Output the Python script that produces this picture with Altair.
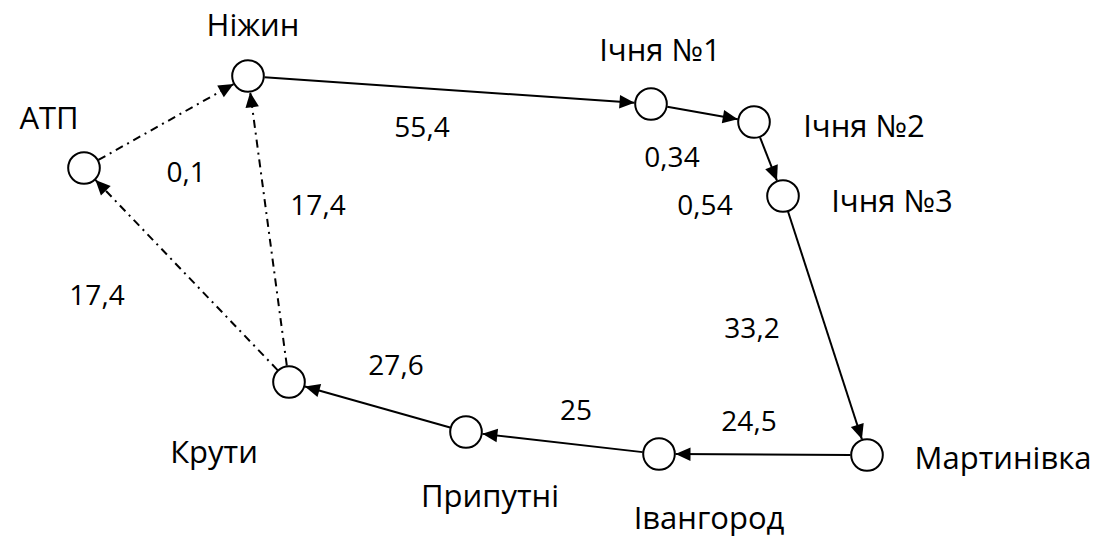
import math
import altair as alt
import pandas as pd

# Nodes (positions in the diagram's own coordinate frame)
names = ["АТП", "Ніжин", "Ічня №1", "Ічня №2", "Ічня №3", "Мартинівка", "Івангород", "Припутні", "Крути"]
node_x = [84, 248, 651, 754, 783, 867, 659, 466, 289]
node_y = [168, 76, 104, 122, 196, 455, 454, 432, 382]
label_x = [49, 253, 660, 864, 892, 1003, 709, 490, 214]
label_y = [129, 36, 61, 137, 212, 469, 529, 507, 463]

# Edges
edge_src = [0, 1, 2, 3, 4, 5, 6, 7, 8, 8]
edge_dst = [1, 2, 3, 4, 5, 6, 7, 8, 0, 1]
edge_style = ["dashdot", "solid", "solid", "solid", "solid", "solid", "solid", "solid", "dashdot", "dashdot"]

# Edge distance labels
dist_text = ["0,1", "55,4", "0,34", "0,54", "33,2", "24,5", "25", "27,6", "17,4", "17,4"]
dist_x = [186, 422, 672, 705, 752, 749, 576, 396, 318, 97]
dist_y = [182, 137, 167, 215, 338, 431, 420, 375, 215, 305]

R = 16.5
rows = []
for s, d, st in zip(edge_src, edge_dst, edge_style):
    xs, ys, xd, yd = node_x[s], node_y[s], node_x[d], node_y[d]
    L = math.hypot(xd - xs, yd - ys)
    ux, uy = (xd - xs) / L, (yd - ys) / L
    rows.append(dict(
        x1=xs + R * ux, y1=ys + R * uy,
        x2=xd - R * ux, y2=yd - R * uy,
        angle=(math.degrees(math.atan2(ux, -uy)) + 360) % 360,
        style=st,
    ))
edges = pd.DataFrame(rows)
nodes = pd.DataFrame(dict(name=names, x=node_x, y=node_y, lx=label_x, ly=label_y))
dists = pd.DataFrame(dict(t=dist_text, x=dist_x, y=dist_y))

xs = alt.Scale(domain=[8, 1105])
ys = alt.Scale(domain=[8, 540], reverse=True)

solid = alt.Chart(edges).transform_filter(alt.datum.style == "solid").mark_rule(
    color="black", strokeWidth=2
).encode(
    x=alt.X("x1:Q", scale=xs, axis=None), y=alt.Y("y1:Q", scale=ys, axis=None),
    x2="x2:Q", y2="y2:Q",
)
dashed = alt.Chart(edges).transform_filter(alt.datum.style == "dashdot").mark_rule(
    color="black", strokeWidth=2, strokeDash=[8, 5, 2, 5]
).encode(
    x=alt.X("x1:Q", scale=xs, axis=None), y=alt.Y("y1:Q", scale=ys, axis=None),
    x2="x2:Q", y2="y2:Q",
)
arrows = alt.Chart(edges).mark_point(
    shape="M0,0L-0.45,1L0.45,1Z", filled=True, size=900, color="black",
    opacity=1, strokeWidth=0,
).encode(
    x=alt.X("x2:Q", scale=xs, axis=None), y=alt.Y("y2:Q", scale=ys, axis=None),
    angle=alt.Angle("angle:Q", scale=None),
)
circles = alt.Chart(nodes).mark_point(
    shape="circle", size=1000, filled=True, fill="white", stroke="black",
    strokeWidth=2, opacity=1,
).encode(
    x=alt.X("x:Q", scale=xs, axis=None), y=alt.Y("y:Q", scale=ys, axis=None),
)
node_text = alt.Chart(nodes).mark_text(
    font="Open Sans", fontSize=31, align="center", baseline="alphabetic", color="black",
).encode(
    x=alt.X("lx:Q", scale=xs, axis=None), y=alt.Y("ly:Q", scale=ys, axis=None),
    text="name:N",
)
dist_labels = alt.Chart(dists).mark_text(
    font="Open Sans", fontSize=28, align="center", baseline="alphabetic", color="black",
).encode(
    x=alt.X("x:Q", scale=xs, axis=None), y=alt.Y("y:Q", scale=ys, axis=None),
    text="t:N",
)

chart = alt.layer(solid, dashed, arrows, circles, node_text, dist_labels).properties(
    width=1097, height=532, padding=0, background="white",
    autosize=alt.AutoSizeParams(type="none"),
).configure_view(stroke=None)

chart.save("out.html", embed_options={"renderer": "svg", "actions": False})
